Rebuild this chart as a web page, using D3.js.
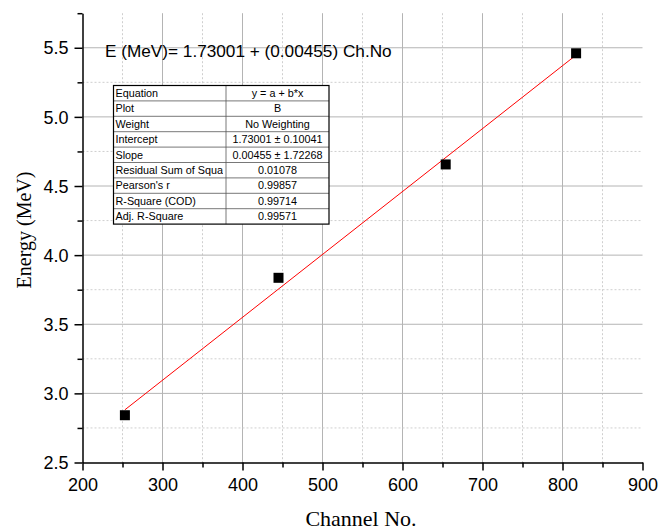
<!DOCTYPE html>
<html>
<head>
<meta charset="utf-8">
<script src="https://cdn.jsdelivr.net/npm/d3@7"></script>
<style>
  html, body { margin: 0; padding: 0; background: #fff; }
  svg { display: block; }
</style>
</head>
<body>
<svg id="chart" width="659" height="531"></svg>
<script>
// Calibration points: channel number vs. energy
const channels = [253, 445, 654, 817];
const energies = [2.842, 3.836, 4.656, 5.46];

// Linear fit E = a + b * Ch
const intercept = 1.73001;
const slope = 0.00455;

const xMajorTicks = [200, 300, 400, 500, 600, 700, 800, 900];
const xMinorTicks = [250, 350, 450, 550, 650, 750, 850];
const yMajorTicks = [2.5, 3.0, 3.5, 4.0, 4.5, 5.0, 5.5];
const yMinorTicks = [2.75, 3.25, 3.75, 4.25, 4.75, 5.25, 5.75];

const equationText = "E (MeV)= 1.73001 + (0.00455) Ch.No";
const xTitle = "Channel No.";
const yTitle = "Energy (MeV)";

const tableLabels = ["Equation", "Plot", "Weight", "Intercept", "Slope",
  "Residual Sum of Squares", "Pearson's r", "R-Square (COD)", "Adj. R-Square"];
const tableValues = ["y = a + b*x", "B", "No Weighting", "1.73001 \u00b1 0.10041",
  "0.00455 \u00b1 1.72268", "0.01078", "0.99857", "0.99714", "0.99571"];

const svg = d3.select("#chart");
const plotLeft = 82.5, plotRight = 642.5, plotTop = 13.2, plotBottom = 462.5;

const x = d3.scaleLinear().domain([200, 900]).range([plotLeft, plotRight]);
const y = d3.scaleLinear().domain([2.5, 5.75]).range([plotBottom, plotTop]);

// Grid: solid at major values, dotted at minor values
const grid = svg.append("g");
grid.selectAll("line.vmaj").data(xMajorTicks.filter(v => v > 200 && v < 900)).join("line")
  .attr("x1", d => x(d)).attr("x2", d => x(d)).attr("y1", plotTop).attr("y2", plotBottom)
  .attr("stroke", "#b4b4b4").attr("stroke-width", 1);
grid.selectAll("line.vmin").data(xMinorTicks).join("line")
  .attr("x1", d => x(d)).attr("x2", d => x(d)).attr("y1", plotTop).attr("y2", plotBottom)
  .attr("stroke", "#cfcfcf").attr("stroke-width", 1).attr("stroke-dasharray", "2,2");
grid.selectAll("line.hmaj").data(yMajorTicks.filter(v => v > 2.5)).join("line")
  .attr("x1", plotLeft).attr("x2", plotRight).attr("y1", d => y(d)).attr("y2", d => y(d))
  .attr("stroke", "#b4b4b4").attr("stroke-width", 1);
grid.selectAll("line.hmin").data(yMinorTicks.filter(v => v < 5.75)).join("line")
  .attr("x1", plotLeft).attr("x2", plotRight).attr("y1", d => y(d)).attr("y2", d => y(d))
  .attr("stroke", "#cfcfcf").attr("stroke-width", 1).attr("stroke-dasharray", "2,2");

// Axes
const xAxis = svg.append("g").attr("transform", `translate(0,${plotBottom})`)
  .call(d3.axisBottom(x).tickValues(xMajorTicks).tickFormat(d3.format("d"))
    .tickSize(8).tickPadding(8).tickSizeOuter(0));
svg.append("g").attr("transform", `translate(0,${plotBottom})`)
  .call(d3.axisBottom(x).tickValues(xMinorTicks).tickFormat("").tickSize(5).tickSizeOuter(0))
  .select(".domain").remove();
const yAxis = svg.append("g").attr("transform", `translate(${plotLeft},0)`)
  .call(d3.axisLeft(y).tickValues(yMajorTicks).tickFormat(d3.format(".1f"))
    .tickSize(8).tickPadding(6).tickSizeOuter(0));
svg.append("g").attr("transform", `translate(${plotLeft},0)`)
  .call(d3.axisLeft(y).tickValues(yMinorTicks).tickFormat("").tickSize(5).tickSizeOuter(0))
  .select(".domain").remove();

svg.selectAll(".tick line").attr("stroke", "#000").attr("stroke-width", 1.5);
svg.selectAll(".domain").attr("stroke", "#000").attr("stroke-width", 1.5);
xAxis.selectAll("text").attr("font-family", "Liberation Sans, Arial, sans-serif")
  .attr("font-size", 18).attr("fill", "#000");
yAxis.selectAll("text").attr("font-family", "Liberation Sans, Arial, sans-serif")
  .attr("font-size", 18).attr("fill", "#000").attr("dy", "0.34em");

// Axis titles
svg.append("text").attr("x", 361).attr("y", 526).attr("text-anchor", "middle")
  .attr("font-family", "Liberation Serif, Times New Roman, serif").attr("font-size", 22)
  .text(xTitle);
svg.append("text").attr("transform", "translate(31,230) rotate(-90)").attr("text-anchor", "middle")
  .attr("font-family", "Liberation Serif, Times New Roman, serif").attr("font-size", 20)
  .text(yTitle);

// Fit line across the data range
const xExt = d3.extent(channels);
const fitLine = d3.line().x(d => x(d)).y(d => y(intercept + slope * d));
svg.append("path").datum(xExt).attr("d", fitLine)
  .attr("fill", "none").attr("stroke", "#ff0000").attr("stroke-width", 1);

// Data markers
const sq = 10;
svg.selectAll("rect.pt").data(channels).join("rect")
  .attr("x", (d) => x(d) - sq / 2)
  .attr("y", (d, i) => y(energies[i]) - sq / 2)
  .attr("width", sq).attr("height", sq).attr("fill", "#000");

// Equation annotation
svg.append("text").attr("x", 105).attr("y", 57)
  .attr("font-family", "Liberation Sans, Arial, sans-serif").attr("font-size", 17.2)
  .text(equationText);

// Fit statistics table
const tX = 113.5, tY = 85.5, col1 = 112.5, col2 = 103, rowH = 15.4;
const table = svg.append("g");
table.append("rect").attr("x", tX).attr("y", tY).attr("width", col1 + col2)
  .attr("height", rowH * tableLabels.length).attr("fill", "#fff");
table.append("clipPath").attr("id", "labelClip").append("rect")
  .attr("x", tX).attr("y", -5).attr("width", col1 - 3).attr("height", rowH + 10);
const rows = table.selectAll("g.row").data(tableLabels).join("g")
  .attr("transform", (d, i) => `translate(0,${tY + i * rowH})`);
rows.filter((d, i) => i > 0).append("line")
  .attr("x1", tX).attr("x2", tX + col1 + col2).attr("y1", 0).attr("y2", 0)
  .attr("stroke", "#555").attr("stroke-width", 0.8);
rows.append("text").attr("x", tX + 2).attr("y", rowH - 3.8)
  .attr("font-family", "Liberation Sans, Arial, sans-serif").attr("font-size", 10.8)
  .attr("clip-path", "url(#labelClip)")
  .text(d => d);
rows.append("text").attr("x", tX + col1 + col2 / 2).attr("y", rowH - 3.8)
  .attr("text-anchor", "middle")
  .attr("font-family", "Liberation Sans, Arial, sans-serif").attr("font-size", 10.8)
  .text((d, i) => tableValues[i]);
table.append("line").attr("x1", tX + col1).attr("x2", tX + col1)
  .attr("y1", tY).attr("y2", tY + rowH * tableLabels.length)
  .attr("stroke", "#555").attr("stroke-width", 0.8);
table.append("rect").attr("x", tX).attr("y", tY).attr("width", col1 + col2)
  .attr("height", rowH * tableLabels.length).attr("fill", "none")
  .attr("stroke", "#000").attr("stroke-width", 1.2);
</script>
</body>
</html>
